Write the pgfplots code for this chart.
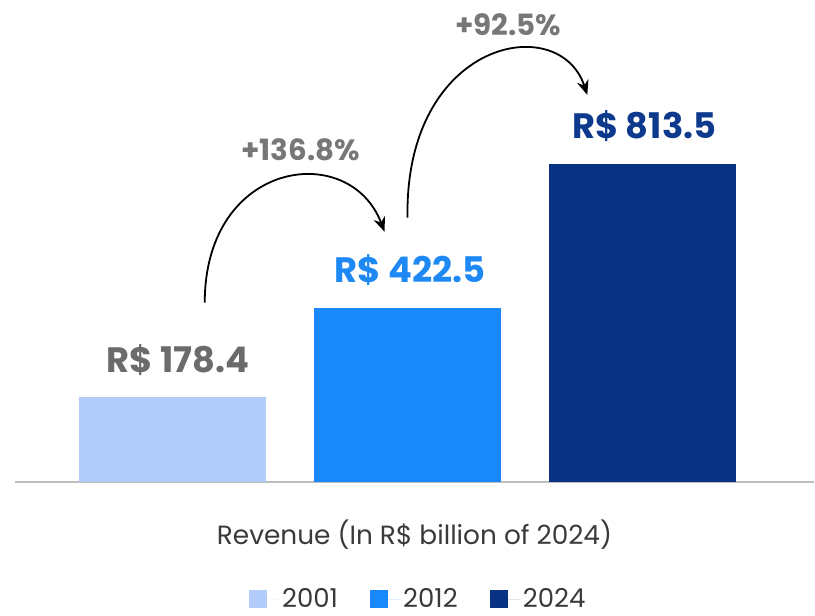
\documentclass[border=0pt]{standalone}
\usepackage{pgfplots}
\pgfplotsset{compat=1.18}
\usepackage{fontspec}
\setmainfont{Poppins}
\usetikzlibrary{arrows.meta}
\definecolor{bA}{HTML}{B2CDFA}
\definecolor{bB}{HTML}{1888FA}
\definecolor{bC}{HTML}{0A3282}
\definecolor{lA}{HTML}{6B6B6B}
\definecolor{lB}{HTML}{1E88F5}
\definecolor{lC}{HTML}{0D3A8C}
\definecolor{pct}{HTML}{777777}
\definecolor{txt}{HTML}{3A3A3A}
\begin{document}
\begin{tikzpicture}
\begin{axis}[
  scale only axis, width=600pt, height=362.25pt,
  xmin=-0.6695, xmax=2.731, ymin=0, ymax=1310.7,
  axis x line*=bottom, axis y line=none,
  x axis line style={draw={rgb,255:red,190;green,190;blue,190}, line width=1.5pt},
  xtick=\empty, ytick=\empty,
  clip=false,
  ybar, bar width=140.25pt,
  y filter/.expression={y+52.4},
  point meta=explicit symbolic,
  nodes near coords,
  every node near coord/.append style={anchor=base, yshift=19pt, inner sep=0pt,
     font=\fontsize{26.5}{31}\selectfont\bfseries},
  legend style={at={(0.505,-0.242)}, anchor=center, draw=none, fill=none,
     font=\fontsize{19.5}{23}\selectfont, text=txt,
     /tikz/every even column/.append style={column sep=22pt}},
  legend columns=3,
  legend image code/.code={\fill[#1] (0pt,-6.75pt) rectangle (13.5pt,6.75pt); \path (0pt,0pt) -- (23pt,0pt);},
]
\addplot[fill=bA, draw=none, bar shift=0pt, every node near coord/.append style={text=lA, xshift=4pt}]
  coordinates {(0,178.4) [R\$ 178.4]};
\addplot[fill=bB, draw=none, bar shift=0pt, every node near coord/.append style={text=lB, xshift=2pt}]
  coordinates {(1,422.5) [R\$ 422.5]};
\addplot[fill=bC, draw=none, bar shift=0pt, every node near coord/.append style={text=lC, xshift=1.5pt}]
  coordinates {(2,813.5) [R\$ 813.5]};
\legend{2001,2012,2024}
\end{axis}
\begin{scope}[shift={(current axis.north west)}, xshift=-11.25pt, x=0.75pt, y=-0.75pt]
  \path (0,0) rectangle (815,612);
  \draw[line width=1.35pt, -{Stealth[length=11pt,width=9pt]}]
     (205,303) .. controls (205,160) and (350,140) .. (385,232);
  \draw[line width=1.35pt, -{Stealth[length=11pt,width=9pt]}]
     (408,218) .. controls (405,40) and (560,10) .. (588,95);
  \node[text=pct, font=\fontsize{22}{26}\selectfont\bfseries] at (301,150) {+136.8\%};
  \node[text=pct, font=\fontsize{22}{26}\selectfont\bfseries] at (509,25) {+92.5\%};
  \node[text=txt, font=\fontsize{19.8}{24}\selectfont] at (415,535) {Revenue (In R\$ billion of 2024)};
\end{scope}
\end{tikzpicture}
\end{document}
